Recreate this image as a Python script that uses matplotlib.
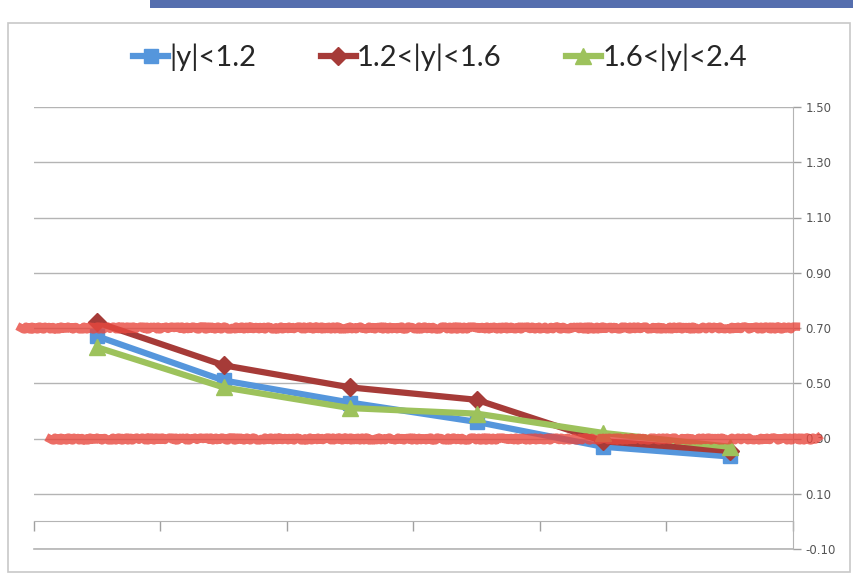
import numpy as np
import matplotlib.pyplot as plt
from matplotlib.patches import Rectangle

# category positions (no labels on the x axis)
cats = [0, 1, 2, 3, 4, 5]

# series values
y_low = [0.67, 0.51, 0.43, 0.36, 0.27, 0.235]
y_mid = [0.72, 0.565, 0.485, 0.44, 0.29, 0.255]
y_high = [0.63, 0.485, 0.41, 0.39, 0.32, 0.27]
labels = ['|y|<1.2', '1.2<|y|<1.6', '1.6<|y|<2.4']

# hand drawn red marks
ref_levels = [0.70, 0.30]
ref_spans = [(-0.6, 5.52), (-0.37, 5.7)]

yticks = np.arange(-0.10, 1.51, 0.20)

fig = plt.figure(figsize=(8.54, 5.75), dpi=100)
fig.patch.set_facecolor('white')

# outer chart frame and the blue screenshot strip at the top
fig.patches.append(Rectangle((8 / 854, 1 - 572 / 575), 842 / 854, 549 / 575,
                             transform=fig.transFigure, fill=False,
                             edgecolor='#c8c8c8', linewidth=1.2))
fig.patches.append(Rectangle((150 / 854, 1 - 8 / 575), 704 / 854, 8 / 575,
                             transform=fig.transFigure, facecolor='#2a4a9a',
                             edgecolor='none', alpha=0.8))

ax = fig.add_axes([34 / 854, 1 - 549 / 575, 759 / 854, 442 / 575])
ax.set_xlim(-0.5, 5.5)
ax.set_ylim(-0.10, 1.50)

ax.yaxis.tick_right()
ax.set_yticks(yticks)
ax.set_yticklabels(['%.2f' % v for v in yticks])
ax.tick_params(axis='y', colors='#a0a0a0', labelcolor='#555555',
               labelsize=8.5, length=6, width=1, pad=3)
ax.grid(axis='y', color='#b4b4b4', linewidth=1)
ax.axhline(yticks[0], color='#b4b4b4', linewidth=1.2, clip_on=False, zorder=0)
ax.set_axisbelow(True)

ax.set_xticks(np.arange(-0.5, 5.6, 1))
ax.set_xticklabels([])
ax.tick_params(axis='x', colors='#a0a0a0', direction='out', length=7, width=1)

ax.spines['left'].set_visible(False)
ax.spines['top'].set_visible(False)
ax.spines['right'].set_color('#b4b4b4')
ax.spines['bottom'].set_position(('data', 0))
ax.spines['bottom'].set_color('#b4b4b4')

ax.plot(cats, y_low, color='#5596DC', linewidth=4.5, marker='s',
        markersize=10, label=labels[0], zorder=3)
ax.plot(cats, y_mid, color='#A63B38', linewidth=4.5, marker='D',
        markersize=9, label=labels[1], zorder=3)
ax.plot(cats, y_high, color='#9DC25C', linewidth=4.5, marker='^',
        markersize=11, label=labels[2], zorder=4)

for lvl, (x0, x1) in zip(ref_levels, ref_spans):
    ln, = ax.plot([x0, x1], [lvl, lvl], color='#e8483f', linewidth=6,
                  alpha=0.8, clip_on=False, zorder=5)
    ln.set_sketch_params(1.5, 3, 6)

fig.legend(loc='center', bbox_to_anchor=(440 / 854, 1 - 57 / 575), ncol=3,
           frameon=False, prop={'family': 'Lato', 'size': 21},
           handlelength=1.2, handletextpad=0.05, columnspacing=2.2,
           labelcolor='#262626')

fig.savefig('out.png', dpi=100)
